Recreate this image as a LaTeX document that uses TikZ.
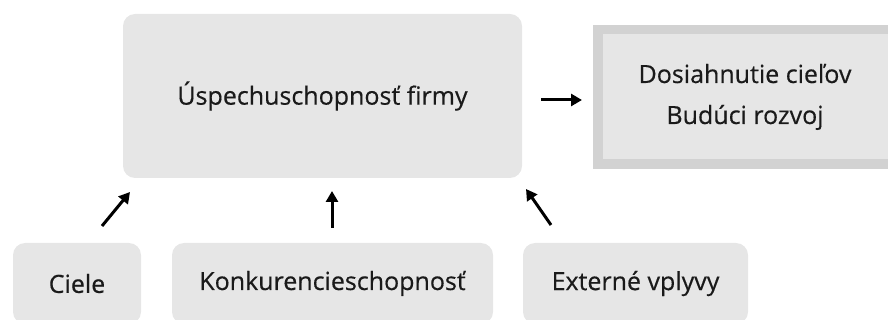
\documentclass[tikz,border=0pt]{standalone}
\usepackage{fontspec}
\setmainfont{Open Sans}[FakeBold=0.4]
\usetikzlibrary{arrows.meta}
\definecolor{boxfill}{HTML}{E6E6E6}
\definecolor{boxline}{HTML}{D2D2D2}
\definecolor{ink}{HTML}{1A1A1A}
\begin{document}
\begin{tikzpicture}[x=1pt,y=-1pt,
  softbox/.style={fill=boxfill,draw=none,rounded corners=12pt,inner sep=0pt,text=ink,font=\fontsize{25}{30}\selectfont},
  goalbox/.style={fill=boxfill,draw=boxline,line width=9.5pt,inner sep=0pt,text=ink,align=center,font=\fontsize{25}{41}\selectfont},
  arr/.style={draw=black,line width=3pt,-{Triangle[length=11pt,width=12pt]}}]
\useasboundingbox (0,0) rectangle (888,320);
\node[softbox,minimum width=399pt,minimum height=164pt] (main) at (322.5,96) {Úspechuschopnosť firmy};
\node[goalbox,minimum width=294.5pt,minimum height=134.5pt] (goal) at (745,97) {Dosiahnutie cieľov\\Budúci rozvoj};
\node[softbox,minimum width=128pt,minimum height=81pt] (ciele) at (77,283.5) {Ciele};
\node[softbox,minimum width=321pt,minimum height=81pt] (konk) at (332.5,283.5) {Konkurencieschopnosť};
\node[softbox,minimum width=225pt,minimum height=81pt] (ext) at (635.5,283.5) {Externé vplyvy};
\coordinate (r1) at (541,100);
\coordinate (r2) at (582,100);
\coordinate (a1s) at (102,226);
\coordinate (a1e) at (130,192);
\coordinate (a2s) at (332,228);
\coordinate (a2e) at (332,191);
\coordinate (a3s) at (551,225);
\coordinate (a3e) at (526,189);
\draw[arr] (r1) -- (r2);
\draw[arr] (a1s) -- (a1e);
\draw[arr] (a2s) -- (a2e);
\draw[arr] (a3s) -- (a3e);
\end{tikzpicture}
\end{document}
